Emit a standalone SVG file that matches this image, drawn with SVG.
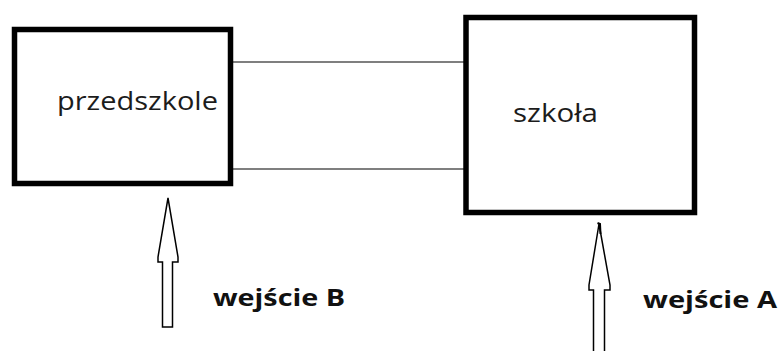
<svg xmlns="http://www.w3.org/2000/svg" width="782" height="351" viewBox="0 0 782 351">
<style>
.box{fill:#fff;stroke:#000;stroke-width:5.5}
.lbl{font-family:"Open Sans","Noto Sans",sans-serif;font-size:25px;fill:#1c1c1c}
.bold{font-family:"Open Sans","Noto Sans",sans-serif;font-size:24px;font-weight:bold;fill:#111}
.conn{stroke:#000;stroke-width:1.2;fill:none}
.arrow{fill:#fff;stroke:#000;stroke-width:1.5;stroke-linejoin:miter}
</style>
<rect width="782" height="351" fill="#fff"/>
<g id="connectors">
<line class="conn" x1="233" y1="62" x2="464" y2="62"/>
<line class="conn" x1="233" y1="169" x2="464" y2="169"/>
</g>
<g id="przedszkole">
<rect class="box" x="14.5" y="29.5" width="216" height="154"/>
<text class="lbl" x="57" y="110" textLength="161" lengthAdjust="spacingAndGlyphs">przedszkole</text>
</g>
<g id="szkola">
<rect class="box" x="466" y="17.5" width="228.5" height="195"/>
<text class="lbl" x="513" y="122" textLength="85" lengthAdjust="spacingAndGlyphs">szkoła</text>
</g>
<g id="wejscieB">
<polygon class="arrow" points="162.5,327 172.5,327 172.5,262 178,262 178,257 168,198 158,257 158,262 162.5,262"/>
<text class="bold" x="213" y="306" textLength="132" lengthAdjust="spacingAndGlyphs">wejście B</text>
</g>
<g id="wejscieA">
<polygon class="arrow" points="593.5,352 604.5,352 604.5,290 610,290 610,285 599,224 589,285 589,290 593.5,290"/>
<path d="M597.5,223 L600,224 L600.5,234" stroke="#000" stroke-width="2" fill="none"/>
<text class="bold" x="643" y="308" textLength="134" lengthAdjust="spacingAndGlyphs">wejście A</text>
</g>
</svg>
